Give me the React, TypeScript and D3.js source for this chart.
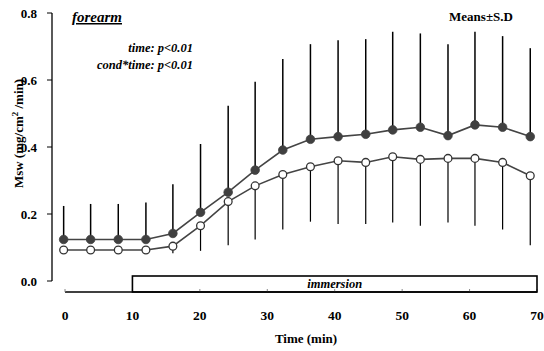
import React from "react";
import * as d3 from "d3";

const times = [-0.2, 3.8, 7.9, 12.0, 16.0, 20.1, 24.2, 28.2, 32.3, 36.4, 40.5, 44.6, 48.6, 52.7, 56.8, 60.8, 64.9, 69.0];
const filledMean = [0.124, 0.124, 0.124, 0.124, 0.142, 0.205, 0.265, 0.331, 0.391, 0.423, 0.431, 0.438, 0.451, 0.459, 0.434, 0.466, 0.459, 0.431];
const filledSD = [0.1, 0.106, 0.106, 0.11, 0.147, 0.204, 0.258, 0.264, 0.272, 0.284, 0.288, 0.284, 0.293, 0.28, 0.273, 0.278, 0.272, 0.264];
const openMean = [0.0925, 0.0925, 0.0925, 0.0925, 0.104, 0.165, 0.237, 0.284, 0.318, 0.341, 0.359, 0.354, 0.371, 0.363, 0.366, 0.366, 0.354, 0.314];
const openSD = [0, 0, 0, 0, 0.021, 0.075, 0.13, 0.16, 0.164, 0.164, 0.189, 0.184, 0.196, 0.198, 0.191, 0.201, 0.2, 0.207];
const xTicks = [0, 10, 20, 30, 40, 50, 60, 70];
const yTicks = [0, 0.2, 0.4, 0.6, 0.8];
const immersion = [10, 70];

const W = 544, H = 351;
const FONT = "Liberation Serif, Times New Roman, Times, serif";

export default function App() {
  const x = d3.scaleLinear().domain([0, 70]).range([65, 537]);
  const y = d3.scaleLinear().domain([0, 0.8]).range([281, 13]);
  const xAxisY = 292;
  const filled = times.map((t, i) => ({ t, m: filledMean[i], sd: filledSD[i] }));
  const open = times.map((t, i) => ({ t, m: openMean[i], sd: openSD[i] }));
  const line = d3.line<{ t: number; m: number }>().x(d => x(d.t)).y(d => y(d.m));

  return (
    <svg width={W} height={H} style={{ position: "absolute", left: 0, top: 0, background: "#fff", fontFamily: FONT }}>
      <rect width={W} height={H} fill="#fff" />
      {/* y axis */}
      <line x1={52} x2={52} y1={y(0.8)} y2={y(0)} stroke="#000" strokeWidth={1.3} />
      {yTicks.map(v => (
        <g key={v}>
          <line x1={47} x2={52} y1={y(v)} y2={y(v)} stroke="#000" strokeWidth={1} />
          <text x={37} y={y(v)} dy="0.35em" textAnchor="end" fontSize={13} fontWeight="bold">{v.toFixed(1)}</text>
        </g>
      ))}
      <text transform={`translate(23,${(77 + 190) / 2}) rotate(-90)`} textAnchor="middle" fontSize={13} fontWeight="bold">
        Msw (mg/cm<tspan dy={-5} fontSize={9}>2</tspan><tspan dy={5}> /min)</tspan>
      </text>

      {/* x axis */}
      <line x1={x(0)} x2={x(70)} y1={xAxisY} y2={xAxisY} stroke="#000" strokeWidth={1.3} />
      {xTicks.map(v => (
        <g key={v}>
          <line x1={x(v)} x2={x(v)} y1={xAxisY} y2={xAxisY - 3} stroke="#888" strokeWidth={1} />
          <text x={x(v)} y={319.5} textAnchor="middle" fontSize={13.5} fontWeight="bold">{v}</text>
        </g>
      ))}
      <rect x={x(immersion[0])} y={276} width={x(immersion[1]) - x(immersion[0])} height={xAxisY - 276} fill="none" stroke="#000" strokeWidth={1.6} />
      <text x={x(40)} y={288} textAnchor="middle" fontSize={12.5} fontWeight="bold" fontStyle="italic">immersion</text>
      <text x={306} y={343} textAnchor="middle" fontSize={13} fontWeight="bold">Time (min)</text>

      {/* error bars */}
      {filled.map((d, i) => (
        <line key={"fe" + i} x1={x(d.t)} x2={x(d.t)} y1={y(d.m)} y2={y(d.m + d.sd)} stroke="#000" strokeWidth={1.5} />
      ))}
      {open.map((d, i) => (
        <line key={"oe" + i} x1={x(d.t)} x2={x(d.t)} y1={y(d.m)} y2={y(d.m - d.sd)} stroke="#000" strokeWidth={1.2} />
      ))}

      {/* lines */}
      <path d={line(filled) || ""} fill="none" stroke="#444" strokeWidth={1.6} />
      <path d={line(open) || ""} fill="none" stroke="#444" strokeWidth={1.6} />

      {/* markers */}
      {filled.map((d, i) => (
        <circle key={"fm" + i} cx={x(d.t)} cy={y(d.m)} r={4.3} fill="#404040" stroke="#404040" strokeWidth={0.8} />
      ))}
      {open.map((d, i) => (
        <circle key={"om" + i} cx={x(d.t)} cy={y(d.m)} r={3.9} fill="#fff" stroke="#333" strokeWidth={1.3} />
      ))}

      {/* annotations */}
      <text x={72} y={22} fontSize={15} fontWeight="bold" fontStyle="italic" textDecoration="underline">forearm</text>
      <text x={193} y={52} textAnchor="end" fontSize={12.5} fontWeight="bold" fontStyle="italic">time: p&lt;0.01</text>
      <text x={193} y={69} textAnchor="end" fontSize={12.5} fontWeight="bold" fontStyle="italic">cond*time: p&lt;0.01</text>
      <text x={481} y={21} textAnchor="middle" fontSize={13} fontWeight="bold">Means±S.D</text>
    </svg>
  );
}
